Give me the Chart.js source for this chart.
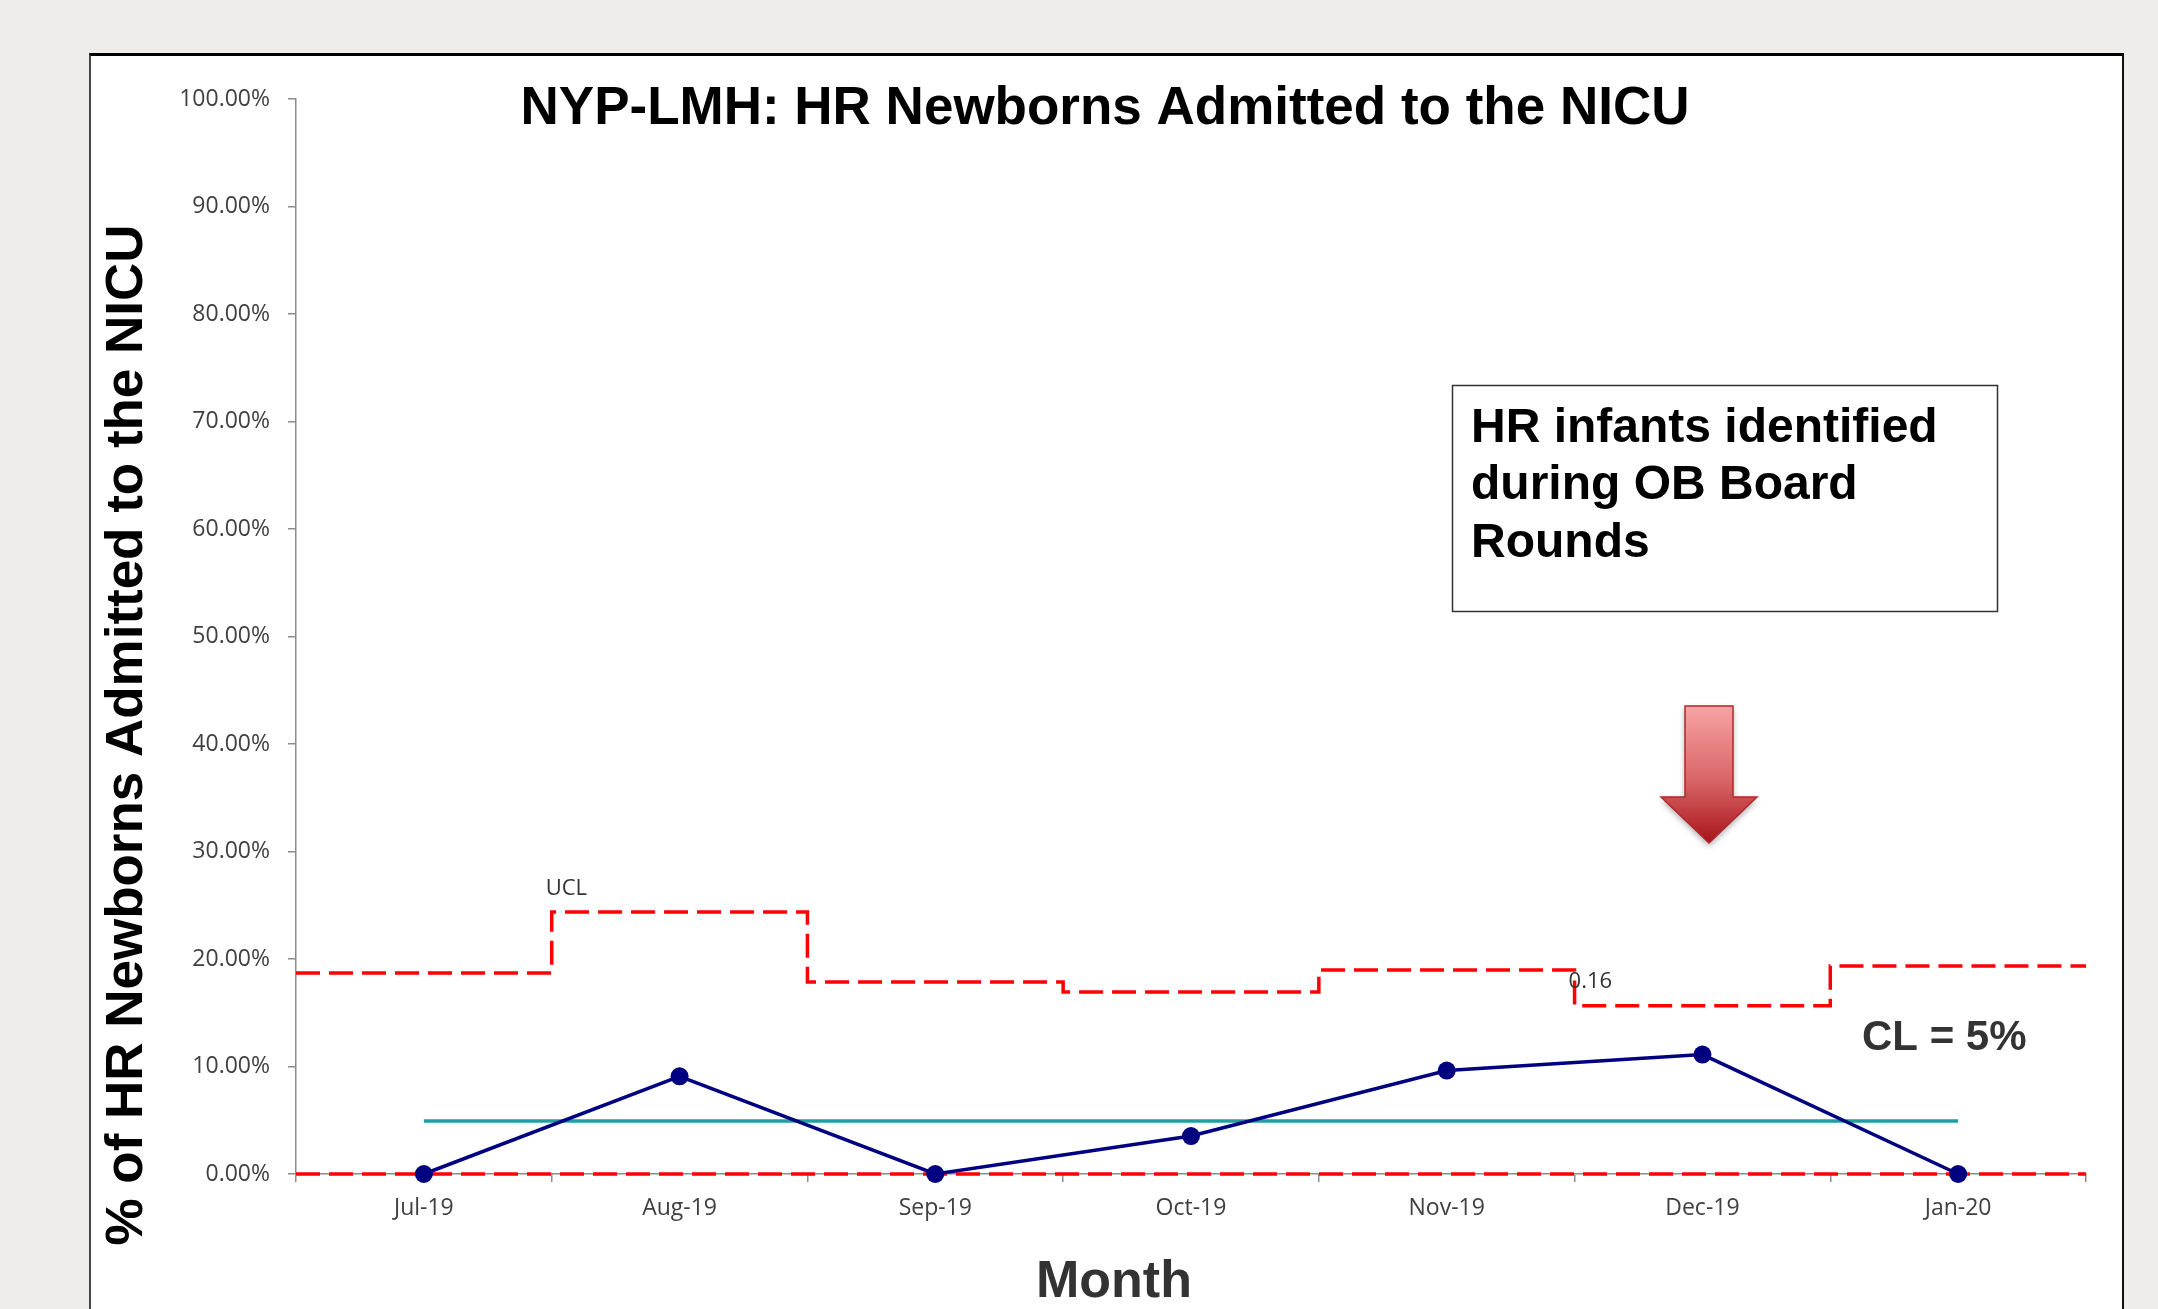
<!DOCTYPE html>
<html>
<head>
<meta charset="utf-8">
<script src="https://cdn.jsdelivr.net/npm/chart.js@4/dist/chart.umd.min.js"></script>
<style>
  html, body { margin: 0; padding: 0; width: 2158px; height: 1309px; overflow: hidden; background: #eeedeb; }
  #panel { position: absolute; left: 89px; top: 53px; width: 2031px; height: 1300px; background: #ffffff;
           border-left: 2px solid #444; border-right: 2px solid #111; border-top: 3px solid #000; }
  #wrap { position: absolute; left: 0; top: 0; width: 2158px; height: 1309px; }
</style>
</head>
<body>
<div id="panel"></div>
<div id="wrap"><canvas id="c"></canvas></div>
<script>
// ---- data ----
const months = ['Jul-19', 'Aug-19', 'Sep-19', 'Oct-19', 'Nov-19', 'Dec-19', 'Jan-20'];
const admittedPct = [0, 9.09, 0, 3.53, 9.62, 11.11, 0];        // % of HR newborns admitted to NICU
const uclPct = [18.70, 24.37, 17.86, 16.93, 18.98, 15.65, 19.35]; // upper control limit per month
const clPct = 4.93;   // centre line
const lclPct = 0;     // lower control limit
const yMin = 0, yMax = 100, yStep = 10;

const titleText = 'NYP-LMH: HR Newborns Admitted to the NICU';
const yTitleText = '% of HR Newborns Admitted to the NICU';
const xTitleText = 'Month';
const clLabel = 'CL = 5%';
const uclLabel = 'UCL';
const noteLines = ['HR infants identified', 'during OB Board', 'Rounds'];

// step line on a hidden linear axis whose range matches the category slots
const uclSteps = uclPct.map((v, i) => ({ x: i - 0.5, y: v })).concat([{ x: uclPct.length - 0.5, y: uclPct[uclPct.length - 1] }]);
const lclSteps = [{ x: -0.5, y: lclPct }, { x: months.length - 0.5, y: lclPct }];
const clLine = months.map(() => clPct);

const SANS = '"Liberation Sans", Arial, sans-serif';
const TICKF = '"Open Sans", sans-serif';

const annot = {
  id: 'annot',
  afterDraw(chart) {
    const ctx = chart.ctx;
    const ys = chart.scales.y, x2 = chart.scales.x2;
    ctx.save();
    // title
    ctx.fillStyle = '#000';
    ctx.font = 'bold 53px ' + SANS;
    ctx.textAlign = 'center';
    ctx.textBaseline = 'alphabetic';
    ctx.fillText(titleText, 1105, 124);

    // y-axis title (rotated, fitted to its length)
    ctx.save();
    ctx.font = 'bold 51px ' + SANS;
    const w = ctx.measureText(yTitleText).width;
    ctx.translate(142, 735);
    ctx.rotate(-Math.PI / 2);
    ctx.scale(1021 / w, 1);
    ctx.textAlign = 'center';
    ctx.fillText(yTitleText, 0, 0);
    ctx.restore();

    // x-axis title
    ctx.fillStyle = '#333';
    ctx.font = 'bold 52px ' + SANS;
    ctx.textAlign = 'left';
    ctx.fillText(xTitleText, 1036, 1297);

    // CL label
    ctx.font = 'bold 42px ' + SANS;
    ctx.fillText(clLabel, 1862, 1050);

    // UCL labels
    ctx.font = '22px ' + TICKF;
    ctx.fillStyle = '#333';
    ctx.fillText(uclLabel, x2.getPixelForValue(0.5) - 6, ys.getPixelForValue(uclPct[1]) - 17);
    ctx.fillText((uclPct[5] / 100).toFixed(2), x2.getPixelForValue(4.5) - 6, ys.getPixelForValue(uclPct[5]) - 18);

    // note box
    ctx.strokeStyle = '#333';
    ctx.lineWidth = 1.5;
    ctx.strokeRect(1452.5, 385.5, 545, 226);
    ctx.fillStyle = '#000';
    ctx.font = 'bold 48px ' + SANS;
    const bl = [442, 499, 557];
    noteLines.forEach((t, i) => ctx.fillText(t, 1471, bl[i]));

    // arrow
    ctx.save();
    ctx.beginPath();
    ctx.moveTo(1685, 706); ctx.lineTo(1733, 706); ctx.lineTo(1733, 797); ctx.lineTo(1757, 797);
    ctx.lineTo(1709, 843); ctx.lineTo(1661, 797); ctx.lineTo(1685, 797); ctx.closePath();
    const g = ctx.createLinearGradient(0, 706, 0, 843);
    g.addColorStop(0, '#f7a4a4');
    g.addColorStop(0.55, '#d86466');
    g.addColorStop(1, '#a8141a');
    ctx.shadowColor = 'rgba(0,0,0,0.35)';
    ctx.shadowBlur = 6;
    ctx.shadowOffsetY = 3;
    ctx.fillStyle = g;
    ctx.fill();
    ctx.shadowColor = 'transparent';
    ctx.strokeStyle = '#b0282c';
    ctx.lineWidth = 1.5;
    ctx.stroke();
    ctx.restore();

    ctx.restore();
  }
};

new Chart(document.getElementById('c'), {
  type: 'line',
  data: {
    labels: months,
    datasets: [
      { label: 'HR newborns admitted', data: admittedPct, xAxisID: 'x', yAxisID: 'y',
        borderColor: '#000080', backgroundColor: '#000080', borderWidth: 3.5,
        pointRadius: 9, pointBorderWidth: 0, pointBackgroundColor: '#000080', tension: 0, clip: false, order: 0 },
      { label: 'CL', data: clLine, xAxisID: 'x', yAxisID: 'y',
        borderColor: '#1fa0a0', borderWidth: 3.5, pointRadius: 0, clip: false, order: 1 },
      { label: 'UCL', data: uclSteps, xAxisID: 'x2', yAxisID: 'y', stepped: 'before',
        borderColor: '#ff0000', borderWidth: 3.5, borderDash: [24, 9], pointRadius: 0, clip: false, order: 2 },
      { label: 'LCL', data: lclSteps, xAxisID: 'x2', yAxisID: 'y',
        borderColor: '#ff0000', borderWidth: 3.5, borderDash: [24, 9], pointRadius: 0, clip: false, order: 3 }
    ]
  },
  options: {
    responsive: true,
    maintainAspectRatio: false,
    animation: false,
    layout: { padding: { top: 99, right: 72, left: 0, bottom: 0 } },
    plugins: { legend: { display: false }, tooltip: { enabled: false }, title: { display: false } },
    scales: {
      x: {
        type: 'category', offset: true,
        grid: { offset: true, drawOnChartArea: false, drawTicks: true, tickLength: 8, color: '#8c8c8c', lineWidth: 1.5 },
        border: { display: true, color: '#8c8c8c', width: 1.5 },
        ticks: { font: { family: 'Open Sans', size: 23 }, color: '#404040', padding: 13, maxRotation: 0 },
        afterFit(s) { s.height = 135; }
      },
      x2: { type: 'linear', display: false, min: -0.5, max: months.length - 0.5 },
      y: {
        min: yMin, max: yMax,
        grid: { drawOnChartArea: false, drawTicks: true, tickLength: 8, color: '#8c8c8c', lineWidth: 1.5 },
        border: { display: true, color: '#8c8c8c', width: 1.5 },
        ticks: { stepSize: yStep, font: { family: 'Open Sans', size: 23 }, color: '#404040', padding: 18,
                 callback: v => Number(v).toFixed(2) + '%' },
        afterFit(s) { s.width = 296; }
      }
    }
  },
  plugins: [annot]
});
</script>
</body>
</html>
